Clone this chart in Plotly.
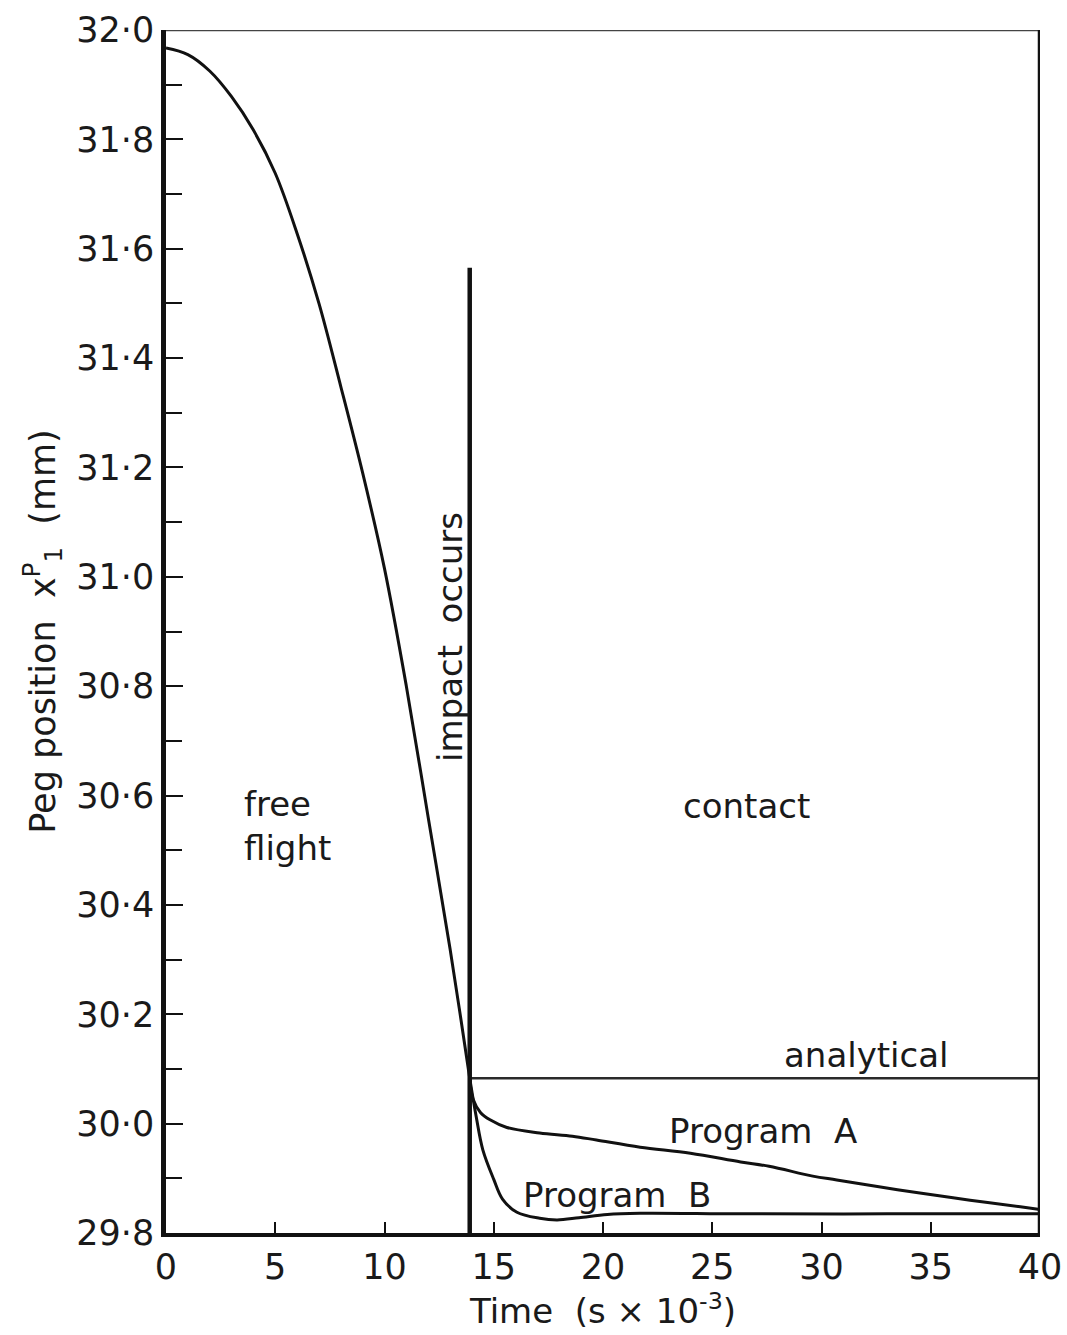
import plotly.graph_objects as go

# Free-flight trajectory of the peg (time in ms, position in mm)
free_t = [0.0, 1.0, 2.0, 3.0, 4.0, 5.0, 6.0, 7.0, 8.0, 9.0, 10.0, 11.0, 12.0, 13.0, 13.5, 13.9]
free_x = [31.967, 31.955, 31.925, 31.878, 31.817, 31.738, 31.628, 31.50, 31.348, 31.19,
          31.015, 30.80, 30.56, 30.32, 30.19, 30.083]

# Contact phase, Program A
prog_a_t = [13.9, 14.05, 14.4, 14.83, 15.6, 17.1, 18.6, 19.7, 21.7, 24.0, 26.3, 27.6,
            29.6, 30.7, 32.7, 34.5, 36.8, 39.1, 40.0]
prog_a_x = [30.083, 30.045, 30.020, 30.007, 29.993, 29.983, 29.977, 29.970, 29.957,
            29.946, 29.930, 29.922, 29.904, 29.897, 29.884, 29.873, 29.860, 29.848, 29.843]

# Contact phase, Program B
prog_b_t = [13.9, 14.2, 14.5, 15.0, 15.4, 16.06, 17.1, 17.9, 18.9, 20.2, 21.7, 26.3, 33.0, 40.0]
prog_b_x = [30.083, 30.012, 29.952, 29.898, 29.862, 29.838, 29.827, 29.824, 29.828, 29.834,
            29.836, 29.835, 29.835, 29.835]

# Analytical contact position and impact instant
analytical_x = 30.083
impact_t = 13.9
impact_top = 31.565

# Axis ticks
x_ticks = [0, 5, 10, 15, 20, 25, 30, 35, 40]
y_ticks = [29.8, 30.0, 30.2, 30.4, 30.6, 30.8, 31.0, 31.2, 31.4, 31.6, 31.8, 32.0]
y_tick_text = ["29\u00b78", "30\u00b70", "30\u00b72", "30\u00b74", "30\u00b76", "30\u00b78",
               "31\u00b70", "31\u00b72", "31\u00b74", "31\u00b76", "31\u00b78", "32\u00b70"]

FONT = "DejaVu Sans, Liberation Sans, sans-serif"
INK = "#111111"
TEXT = "#1a1a1a"

fig = go.Figure()

line_style = dict(color=INK, width=3, shape="spline", smoothing=1.0)
fig.add_trace(go.Scatter(x=free_t, y=free_x, mode="lines", line=line_style, hoverinfo="skip"))
fig.add_trace(go.Scatter(x=prog_a_t, y=prog_a_x, mode="lines", line=line_style, hoverinfo="skip"))
fig.add_trace(go.Scatter(x=prog_b_t, y=prog_b_x, mode="lines", line=line_style, hoverinfo="skip"))
fig.add_trace(go.Scatter(x=[impact_t, 40], y=[analytical_x, analytical_x], mode="lines",
                         line=dict(color="#2a2a2a", width=2.5), hoverinfo="skip"))
fig.add_trace(go.Scatter(x=[impact_t, impact_t], y=[29.8, impact_top], mode="lines",
                         line=dict(color=INK, width=4.5), hoverinfo="skip", cliponaxis=False))

# Frame: thin top edge and heavy right edge
fig.add_shape(type="line", xref="x", yref="y", x0=0, x1=40, y0=32.0, y1=32.0,
              line=dict(color="#444444", width=2.5))
fig.add_shape(type="line", xref="x", yref="y", x0=40, x1=40, y0=29.8, y1=32.0,
              line=dict(color=INK, width=4.5))

ann_font = dict(family=FONT, size=34, color=TEXT)
fig.add_annotation(x=3.5, y=30.544, text="free<br>flight", showarrow=False, xanchor="left",
                   yanchor="middle", align="left", font=ann_font)
fig.add_annotation(x=26.55, y=30.581, text="contact", showarrow=False, font=ann_font)
fig.add_annotation(x=13.0, y=30.89, text="impact\u00a0 occurs", showarrow=False, textangle=-90,
                   font=ann_font)
fig.add_annotation(x=32.04, y=30.125, text="analytical", showarrow=False, font=ann_font)
fig.add_annotation(x=27.3, y=29.986, text="Program\u00a0 A", showarrow=False, font=ann_font)
fig.add_annotation(x=20.64, y=29.869, text="Program\u00a0 B", showarrow=False, font=ann_font)

fig.update_layout(
    width=1067, height=1335,
    margin=dict(l=166, r=27, t=30, b=102),
    paper_bgcolor="white", plot_bgcolor="white",
    showlegend=False,
    font=dict(family=FONT, size=34, color=TEXT),
    xaxis=dict(
        range=[0, 40], tickvals=x_ticks, ticks="inside", ticklen=11, tickwidth=2,
        tickcolor=INK, showline=True, linewidth=3.5, linecolor=INK, showgrid=False,
        zeroline=False, automargin=False, tickfont=dict(family=FONT, size=35, color=TEXT),
        title=dict(text="Time\u00a0 (s \u00d7 10<sup>-3</sup>)", standoff=8,
                   font=dict(family=FONT, size=34, color=TEXT)),
    ),
    yaxis=dict(
        range=[29.8, 32.0], tickvals=y_ticks, ticktext=y_tick_text, ticks="inside",
        ticklen=17, tickwidth=2, tickcolor=INK, showline=True, linewidth=4.5,
        linecolor=INK, showgrid=False, zeroline=False, automargin=False,
        tickfont=dict(family=FONT, size=35, color=TEXT),
        minor=dict(dtick=0.1, tick0=29.8, ticks="inside", ticklen=16, tickwidth=2,
                   tickcolor=INK, showgrid=False),
        title=dict(text="Peg position\u00a0 x<sup>P</sup><sub>1</sub>\u00a0 (mm)", standoff=12,
                   font=dict(family=FONT, size=35, color=TEXT)),
    ),
)

fig.write_html("out.html")
